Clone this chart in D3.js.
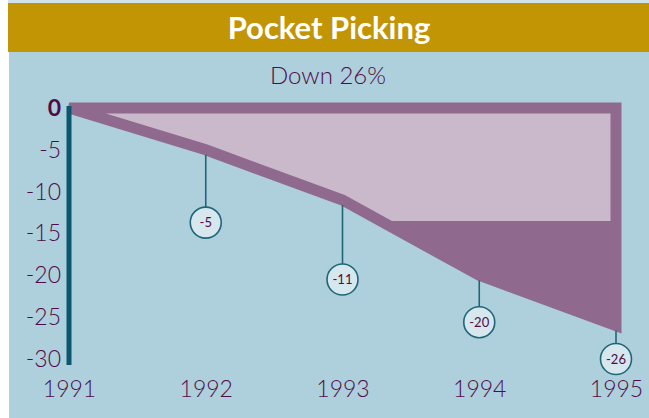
<!DOCTYPE html>
<html>
<head>
<meta charset="utf-8">
<script src="https://cdn.jsdelivr.net/npm/d3@7"></script>
<style>
  body { margin: 0; background: #fff; }
  svg { display: block; }
</style>
</head>
<body>
<div id="chart"></div>
<script>
// data
const years = [1991, 1992, 1993, 1994, 1995]
const values = [0, -5, -11, -20, -26]
const labels = ['', '-5', '-11', '-20', '-26']
const yTicks = [0, -5, -10, -15, -20, -25, -30]
// where each callout bubble hangs, in chart units
const calloutAt = [null, -13.7, -20.5, -25.6, -30]
// light shading stops at this level
const shadeLevel = -13.5
const title = 'Pocket Picking'
const subtitle = 'Down 26%'

const W = 649
const H = 418
const textColor = '#4f0c48'

const svg = d3.select('#chart')
  .append('svg')
  .attr('width', W)
  .attr('height', H)

// background panels
svg.append('rect')
  .attr('x', 0).attr('y', 0).attr('width', W).attr('height', H)
  .attr('fill', '#ffffff')
svg.append('rect')
  .attr('x', 8).attr('y', 0).attr('width', W - 8).attr('height', 3)
  .attr('fill', '#cfe2ea')
svg.append('rect')
  .attr('x', 8).attr('y', 3).attr('width', W - 8).attr('height', 49)
  .attr('fill', '#c29505')
svg.append('rect')
  .attr('x', 9).attr('y', 52).attr('width', W - 9).attr('height', H - 52)
  .attr('fill', '#aecfdc')

svg.append('text')
  .text(title)
  .attr('x', 329)
  .attr('y', 39)
  .attr('text-anchor', 'middle')
  .attr('font-family', 'Lato, sans-serif')
  .attr('font-weight', 'bold')
  .attr('font-size', 31)
  .attr('fill', '#ffffff')

svg.append('text')
  .text(subtitle)
  .attr('x', 328)
  .attr('y', 84)
  .attr('text-anchor', 'middle')
  .attr('font-family', 'Lato, sans-serif')
  .attr('font-weight', 300)
  .attr('font-size', 24)
  .attr('fill', textColor)

// scales
const x = d3.scaleLinear().domain([1991, 1995]).range([69, 616])
const y = d3.scaleLinear().domain([0, -30]).range([108, 359])

const pts = years.map((yr, i) => ({ year: yr, value: values[i] }))
const shape = pts.concat([{ year: 1995, value: 0 }])

const line = d3.line()
  .x(d => x(d.year))
  .y(d => y(d.value))

// dark fill
svg.append('path')
  .attr('d', line(shape) + 'Z')
  .attr('fill', '#8f6a8e')

// light fill, clipped above shade level
svg.append('clipPath')
  .attr('id', 'shade')
  .append('rect')
  .attr('x', 0)
  .attr('y', 0)
  .attr('width', W)
  .attr('height', y(shadeLevel))

svg.append('path')
  .attr('d', line(shape) + 'Z')
  .attr('fill', '#cab9cb')
  .attr('clip-path', 'url(#shade)')

// thick border
svg.append('path')
  .attr('d', line(shape) + 'Z')
  .attr('fill', 'none')
  .attr('stroke', '#8f6a8e')
  .attr('stroke-width', 11)
  .attr('stroke-linejoin', 'miter')

// callouts
const callouts = svg.append('g')
  .selectAll('g')
  .data(pts.filter((d, i) => i > 0))
  .enter()
  .append('g')

callouts.append('line')
  .attr('x1', d => x(d.year))
  .attr('x2', d => x(d.year))
  .attr('y1', d => y(d.value) + 5)
  .attr('y2', d => y(calloutAt[years.indexOf(d.year)]))
  .attr('stroke', '#1f6679')
  .attr('stroke-width', 1.6)

callouts.append('circle')
  .attr('cx', d => x(d.year))
  .attr('cy', d => y(calloutAt[years.indexOf(d.year)]))
  .attr('r', 15.5)
  .attr('fill', '#d6e7ed')
  .attr('stroke', '#1f6679')
  .attr('stroke-width', 1.6)

callouts.append('text')
  .text(d => labels[years.indexOf(d.year)])
  .attr('x', d => x(d.year))
  .attr('y', d => y(calloutAt[years.indexOf(d.year)]))
  .attr('dy', '0.36em')
  .attr('text-anchor', 'middle')
  .attr('font-family', 'Lato, sans-serif')
  .attr('font-size', 13)
  .attr('fill', textColor)

// y axis
const yAxis = d3.axisLeft(y)
  .tickValues(yTicks)
  .tickSize(0)
  .tickPadding(8)
  .tickFormat(d3.format('d'))

svg.append('g')
  .attr('class', 'axis y-axis')
  .attr('transform', 'translate(61,0)')
  .call(yAxis)
  .call(g => g.select('.domain').remove())
  .selectAll('text')
  .attr('x', 0)
  .attr('font-family', 'Lato, sans-serif')
  .attr('font-size', 23)
  .attr('fill', textColor)
  .attr('font-weight', d => d === 0 ? 'bold' : 300)
  .text(d => String(d))

svg.append('line')
  .attr('x1', x(1991))
  .attr('x2', x(1991))
  .attr('y1', y(0) - 2)
  .attr('y2', y(-30) + 6)
  .attr('stroke', '#0b5770')
  .attr('stroke-width', 5)

// x axis
const xAxis = d3.axisBottom(x)
  .tickValues(years)
  .tickSize(0)
  .tickPadding(6)
  .tickFormat(d3.format('d'))

svg.append('g')
  .attr('class', 'axis x-axis')
  .attr('transform', 'translate(0,375)')
  .call(xAxis)
  .call(g => g.select('.domain').remove())
  .selectAll('text')
  .attr('font-family', 'Lato, sans-serif')
  .attr('font-size', 23)
  .attr('font-weight', 300)
  .attr('fill', textColor)
</script>
</body>
</html>
